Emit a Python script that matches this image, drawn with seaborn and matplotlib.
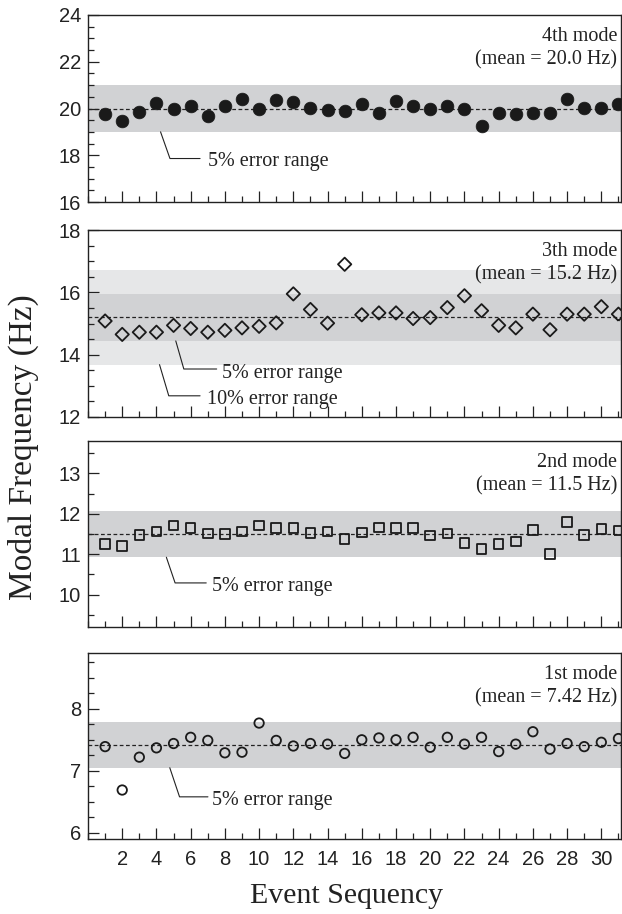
import numpy as np
import pandas as pd
import matplotlib.pyplot as plt
import seaborn as sns
from matplotlib.ticker import MultipleLocator

# Event index and modal frequencies
events = list(range(1, 32))
mode4 = [19.77, 19.45, 19.86, 20.23, 20.0, 20.1, 19.67, 20.1, 20.41, 19.96,
         20.37, 20.26, 20.03, 19.94, 19.89, 20.2, 19.8, 20.34, 20.11, 20.0,
         20.11, 19.96, 19.25, 19.79, 19.77, 19.8, 19.8, 20.41, 20.03, 20.03, 20.2]
mode3 = [15.08, 14.65, 14.72, 14.72, 14.94, 14.84, 14.72, 14.78, 14.86, 14.91,
         15.02, 15.95, 15.45, 15.01, 16.90, 15.28, 15.34, 15.34, 15.16, 15.19,
         15.51, 15.89, 15.41, 14.94, 14.86, 15.30, 14.80, 15.30, 15.30, 15.54, 15.30]
mode2 = [11.26, 11.21, 11.48, 11.56, 11.71, 11.65, 11.51, 11.50, 11.56, 11.71,
         11.65, 11.65, 11.52, 11.56, 11.37, 11.54, 11.66, 11.65, 11.65, 11.46,
         11.51, 11.28, 11.13, 11.26, 11.31, 11.60, 11.0, 11.79, 11.47, 11.63, 11.59]
mode1 = [7.39, 6.69, 7.22, 7.37, 7.44, 7.54, 7.49, 7.29, 7.30, 7.77,
         7.49, 7.40, 7.44, 7.43, 7.28, 7.50, 7.53, 7.50, 7.54, 7.38,
         7.54, 7.43, 7.54, 7.31, 7.43, 7.63, 7.35, 7.44, 7.39, 7.46, 7.52]

mode_names = ["4th mode", "3th mode", "2nd mode", "1st mode"]
means = [20.0, 15.2, 11.5, 7.42]
mean_text = ["20.0", "15.2", "11.5", "7.42"]
ylims = [(16, 24), (12, 18), (9.2, 13.8), (5.9, 8.9)]
yticks = [[16, 18, 20, 22, 24], [12, 14, 16, 18], [10, 11, 12, 13], [6, 7, 8]]
yminor = [0.5, 0.5, 0.5, 0.25]

sns.set_theme(style="ticks")
plt.rcParams['font.family'] = ['Liberation Sans', 'DejaVu Sans']
serif = ['Liberation Serif', 'DejaVu Serif']

W, H = 622, 914
fig = plt.figure(figsize=(W / 100, H / 100), dpi=100)

# panel boxes in pixels (top, bottom)
boxes = [(15, 202), (230, 417), (441, 627), (653, 839)]
left, right = 88, 621

series = [mode4, mode3, mode2, mode1]
markers = ["o", "D", "s", "o"]
sizes = [84, 46, 48, 46]
filled = [True, False, False, False]

# leader line for error-range labels (data coords): x0, x1, x2, y1, text x, text y
leaders = [
    [(4.24, 4.79, 6.55, 17.86, 7.0, 17.72, "5% error range")],
    [(5.13, 5.60, 7.52, 13.54, 7.82, 13.40, "5% error range"),
     (4.18, 4.72, 6.55, 12.68, 6.95, 12.55, "10% error range")],
    [(4.58, 5.09, 6.91, 10.29, 7.27, 10.19, "5% error range")],
    [(4.78, 5.35, 7.01, 6.58, 7.27, 6.52, "5% error range")],
]

for i, ax_data in enumerate(series):
    top, bot = boxes[i]
    ax = fig.add_axes([left / W, 1 - bot / H, (right - left) / W, (bot - top) / H])
    df = pd.DataFrame({"event": events, "freq": ax_data})
    m = means[i]

    if i == 1:
        ax.axhspan(m * 0.90, m * 1.10, color="#e6e7e8", lw=0, zorder=0)
    ax.axhspan(m * 0.95, m * 1.05, color="#d1d2d4", lw=0, zorder=0.5)
    ax.axhline(m, color="#222222", lw=0.9, ls=(0, (3, 2)), zorder=1)

    if filled[i]:
        sns.scatterplot(data=df, x="event", y="freq", ax=ax, marker=markers[i],
                        s=sizes[i], color="#1a1a1a", edgecolor="#1a1a1a",
                        linewidth=0.5, zorder=3, legend=False)
    else:
        sns.scatterplot(data=df, x="event", y="freq", ax=ax, marker=markers[i],
                        s=sizes[i], facecolor="none", edgecolor="#1a1a1a",
                        linewidth=1.3, zorder=3, legend=False)

    ax.set_xlim(0, 31.15)
    ax.set_ylim(*ylims[i])
    ax.set_yticks(yticks[i])
    ax.yaxis.set_minor_locator(MultipleLocator(yminor[i]))
    ax.set_xticks(range(2, 31, 2))
    ax.xaxis.set_minor_locator(MultipleLocator(1))
    ax.set_xlabel("")
    ax.set_ylabel("")

    ax.tick_params(which="both", direction="in", color="#222222", top=False, right=False)
    ax.tick_params(which="major", length=8, width=0.9)
    ax.tick_params(which="minor", length=4, width=0.9)
    ax.tick_params(axis="y", labelsize=14.5, pad=5, labelcolor="#222222")
    ax.tick_params(axis="x", labelsize=14.5, pad=8, labelcolor="#222222")
    if i < 3:
        ax.tick_params(axis="x", labelbottom=False)

    for sp in ax.spines.values():
        sp.set_visible(True)
        sp.set_color("#222222")
        sp.set_linewidth(1.0)

    ax.text(0.993, 0.935, f"{mode_names[i]}\n(mean = {mean_text[i]} Hz)",
            transform=ax.transAxes, ha="right", va="top", fontsize=14.5,
            family=serif, linespacing=1.3, color="#222222")

    for j, (x0, x1, x2, y1, tx, ty, lab) in enumerate(leaders[i]):
        ystart = m * 0.95 if j == 0 else m * 0.90
        ax.plot([x0, x1, x2], [ystart, y1, y1], color="#222222", lw=0.8, zorder=2)
        ax.text(tx, ty, lab, ha="left", va="center", fontsize=14.5,
                family=serif, color="#222222")

fig.text(23 / W, 1 - 447 / H, "Modal Frequency (Hz)", rotation=90, ha="center",
         va="center", fontsize=24, family=serif, color="#222222")
fig.text(347 / W, 1 - 896 / H, "Event Sequency", ha="center", va="center",
         fontsize=21.5, family=serif, color="#222222")

fig.savefig("out.png", dpi=100, facecolor="white")
